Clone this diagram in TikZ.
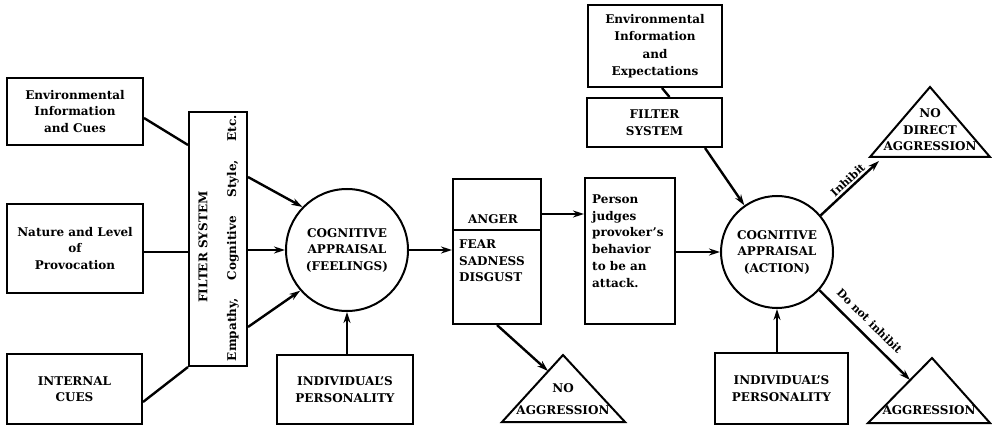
\documentclass[tikz,border=0pt]{standalone}
\usepackage{fontspec}
\setmainfont{DejaVu Serif}
\usetikzlibrary{arrows.meta,calc}
\begin{document}
\begin{tikzpicture}[x=1pt,y=-1pt,
  box/.style={draw,line width=2pt,rectangle,align=center,inner sep=0pt,font=\bfseries\fontsize{12}{16.5}\selectfont},
  txt/.style={align=center,inner sep=0pt,font=\bfseries\fontsize{12}{16.5}\selectfont},
  circ/.style={draw,line width=2pt,circle,inner sep=0pt,align=center,font=\bfseries\fontsize{12}{16.5}\selectfont},
  arr/.style={line width=2.4pt,-{Stealth[length=11pt,width=7pt]}},
  conn/.style={line width=2.4pt},
  lbl/.style={font=\bfseries\fontsize{11}{12}\selectfont,sloped,above=2pt,inner sep=0pt},
  tri/.style={line width=2pt,line join=miter}
]
\useasboundingbox (0,0) rectangle (992,427);
\fill[white] (0,0) rectangle (992,427);

% left column
\node[box, minimum width=136pt, minimum height=67pt] (b1) at (75,111.5) {Environmental\\Information\\and Cues};
\node[box, minimum width=136pt, minimum height=89pt] (b2) at (75,248.5) {Nature and Level\\of\\Provocation};
\node[box, minimum width=135pt, minimum height=70pt] (b3) at (74.5,389) {INTERNAL\\CUES};

% filter system 1
\node[box, minimum width=58pt, minimum height=254pt] (f1) at (218,239) {};
\node[txt, rotate=90] (f1a) at (203,247) {FILTER SYSTEM};
\node[txt, rotate=90] (f1b) at (233,238) {\parbox{246pt}{Empathy,\hfill Cognitive\hfill Style,\hfill Etc.}};

% cognitive appraisal 1
\node[circ, minimum size=122pt] (c1) at (347,250) {COGNITIVE\\APPRAISAL\\(FEELINGS)};
\node[box, minimum width=136pt, minimum height=69pt] (p1) at (345,389.5) {INDIVIDUAL'S\\PERSONALITY};

% emotions box
\node[box, minimum width=88pt, minimum height=145pt] (emo) at (497,251.5) {};
\coordinate (emoL) at ($(emo.north west)+(0,52)$);
\coordinate (emoR) at ($(emo.north east)+(0,52)$);
\draw[line width=2pt] (emoL) -- (emoR);
\node[txt] (anger) at (493,219) {ANGER};
\node[txt, align=left, anchor=west] (fear) at (459,261) {FEAR\\SADNESS\\DISGUST};

% person judges
\node[box, minimum width=90pt, minimum height=146pt] (pb) at (630,251) {};
\node[txt, align=left, anchor=west, font=\bfseries\fontsize{12}{16.8}\selectfont] (pt) at (592,241) {Person\\judges\\provoker's\\behavior\\to be an\\attack.};

% cognitive appraisal 2
\node[circ, minimum size=112pt] (c2) at (777,252) {COGNITIVE\\APPRAISAL\\(ACTION)};
\node[box, minimum width=133pt, minimum height=71pt] (p2) at (781.5,388.5) {INDIVIDUAL'S\\PERSONALITY};
\node[box, minimum width=135pt, minimum height=49pt] (f2) at (654.5,122.5) {FILTER\\SYSTEM};
\node[box, minimum width=134pt, minimum height=82pt, font=\bfseries\fontsize{12}{17.5}\selectfont] (e2) at (655,46) {Environmental\\Information\\and\\Expectations};

% triangles
\coordinate (t1a) at (563,355); \coordinate (t1l) at (502,422); \coordinate (t1r) at (625,422);
\draw[tri] (t1a) -- (t1l) -- (t1r) -- cycle;
\node[txt] (t1t) at (563,399) {NO\\[5.5pt]AGGRESSION};

\coordinate (t2a) at (930,87); \coordinate (t2l) at (870,157); \coordinate (t2r) at (990,157);
\draw[tri] (t2a) -- (t2l) -- (t2r) -- cycle;
\node[txt] (t2t) at (930,130) {NO\\DIRECT\\AGGRESSION};

\coordinate (t3a) at (932,358); \coordinate (t3l) at (868,423); \coordinate (t3r) at (990,423);
\draw[tri] (t3a) -- (t3l) -- (t3r) -- cycle;
\node[txt] (t3t) at (929,410) {AGGRESSION};

% connectors
\draw[conn] ([yshift=-6.5pt]b1.east) -- ([yshift=94pt]f1.west);
\draw[conn] ([yshift=-3.5pt]b2.east) -- ([yshift=-3.5pt]b2.east -| f1.west);
\draw[conn] ([yshift=-13pt]b3.east) -- (f1.south west);
\draw[arr] ([yshift=62pt]f1.east) -- (c1.136);
\draw[arr] (c1.west -| f1.east) -- (c1.west);
\draw[arr] ([yshift=-88pt]f1.east) -- (c1.221);
\draw[arr] (c1.east) -- (c1.east -| emo.west);
\draw[arr] (p1.north -| c1.south) -- (c1.south);
\draw[arr] ([yshift=37.5pt]emo.east) -- ([yshift=37.5pt]emo.east -| pb.west);
\coordinate (t1in) at (548,371);
\draw[arr] (emo.south) -- (t1in);
\draw[arr] (c2.west -| pb.east) -- (c2.west);
\draw[arr] (p2.north -| c2.south) -- (c2.south);
\draw[conn] ([xshift=7pt]e2.south) -- ([xshift=15pt]f2.north);
\draw[arr] ([xshift=50.5pt]f2.south) -- (c2.125);
\coordinate (t2in) at (879,161);
\draw[arr] (c2.40) -- node[lbl, pos=0.55] {Inhibit} (t2in);
\coordinate (t3in) at (910,380);
\draw[arr] (c2.-42) -- node[lbl, pos=0.45, above=6pt] {Do not inhibit} (t3in);
\end{tikzpicture}
\end{document}
